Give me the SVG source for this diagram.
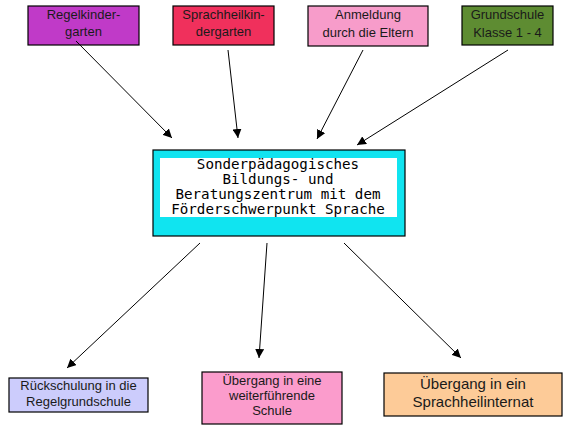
<svg xmlns="http://www.w3.org/2000/svg" width="581" height="436" viewBox="0 0 581 436">
<style>
.box{stroke:#000;stroke-width:1.2}
.t{font-family:"Liberation Sans",Arial,sans-serif;font-size:13px;fill:#1a1a1a;text-anchor:middle}
.big{font-size:15px}
.mono{font-family:"DejaVu Sans Mono","Liberation Mono",monospace;font-size:14.2px;fill:#000;text-anchor:middle}
.c{stroke:#000;stroke-width:1;fill:none;marker-end:url(#ah)}
</style>
<defs>
<marker id="ah" viewBox="0 0 10 10" refX="10" refY="5" markerWidth="9" markerHeight="9" markerUnits="userSpaceOnUse" orient="auto">
<path d="M0,0 L10,5 L0,10 z" fill="#000"/>
</marker>
</defs>
<rect width="581" height="436" fill="#fff"/>
<g id="n1"><rect class="box" x="28" y="6" width="111" height="39" fill="#c03ac8"/><text class="t" x="83.5" y="19">Regelkinder-</text><text class="t" x="83.5" y="36">garten</text></g>
<g id="n2"><rect class="box" x="173" y="6" width="101" height="39" fill="#f0305c"/><text class="t" x="223.5" y="19">Sprachheilkin-</text><text class="t" x="223.5" y="36">dergarten</text></g>
<g id="n3"><rect class="box" x="308" y="6" width="120" height="40" fill="#f79cca"/><text class="t" x="368" y="19">Anmeldung</text><text class="t" x="368" y="37">durch die Eltern</text></g>
<g id="n4"><rect class="box" x="462" y="6" width="91" height="39" fill="#5e8c32"/><text class="t" x="507.5" y="19">Grundschule</text><text class="t" x="507.5" y="37">Klasse 1 - 4</text></g>
<g id="center"><rect class="box" x="153" y="150" width="252" height="86" fill="#10e4f0"/><rect x="160" y="158" width="237" height="59" fill="#fff"/>
<text class="mono" x="278" y="169">Sonderpädagogisches</text>
<text class="mono" x="278" y="184">Bildungs- und</text>
<text class="mono" x="278" y="199">Beratungszentrum mit dem</text>
<text class="mono" x="278" y="214">Förderschwerpunkt Sprache</text></g>
<g id="n5"><rect class="box" x="9" y="378" width="139" height="34" fill="#ccccfc"/><text class="t" x="78.5" y="390">Rückschulung in die</text><text class="t" x="78.5" y="406">Regelgrundschule</text></g>
<g id="n6"><rect class="box" x="202" y="372" width="140" height="52" fill="#fb9ccc"/><text class="t" x="272" y="385">Übergang in eine</text><text class="t" x="272" y="400">weiterführende</text><text class="t" x="272" y="415">Schule</text></g>
<g id="n7"><rect class="box" x="384" y="373" width="178" height="43" fill="#fdcb98"/><text class="t big" x="473" y="389">Übergang in ein</text><text class="t big" x="473" y="407">Sprachheilinternat</text></g>
<g id="connectors">
<line class="c" x1="76" y1="41" x2="172" y2="138"/>
<line class="c" x1="228" y1="50" x2="238" y2="138"/>
<line class="c" x1="363" y1="50" x2="317" y2="139"/>
<line class="c" x1="508" y1="50" x2="357" y2="145"/>
<line class="c" x1="200" y1="243" x2="67" y2="368"/>
<line class="c" x1="267" y1="243" x2="259" y2="358"/>
<line class="c" x1="344" y1="243" x2="461" y2="358"/>
</g>
</svg>
